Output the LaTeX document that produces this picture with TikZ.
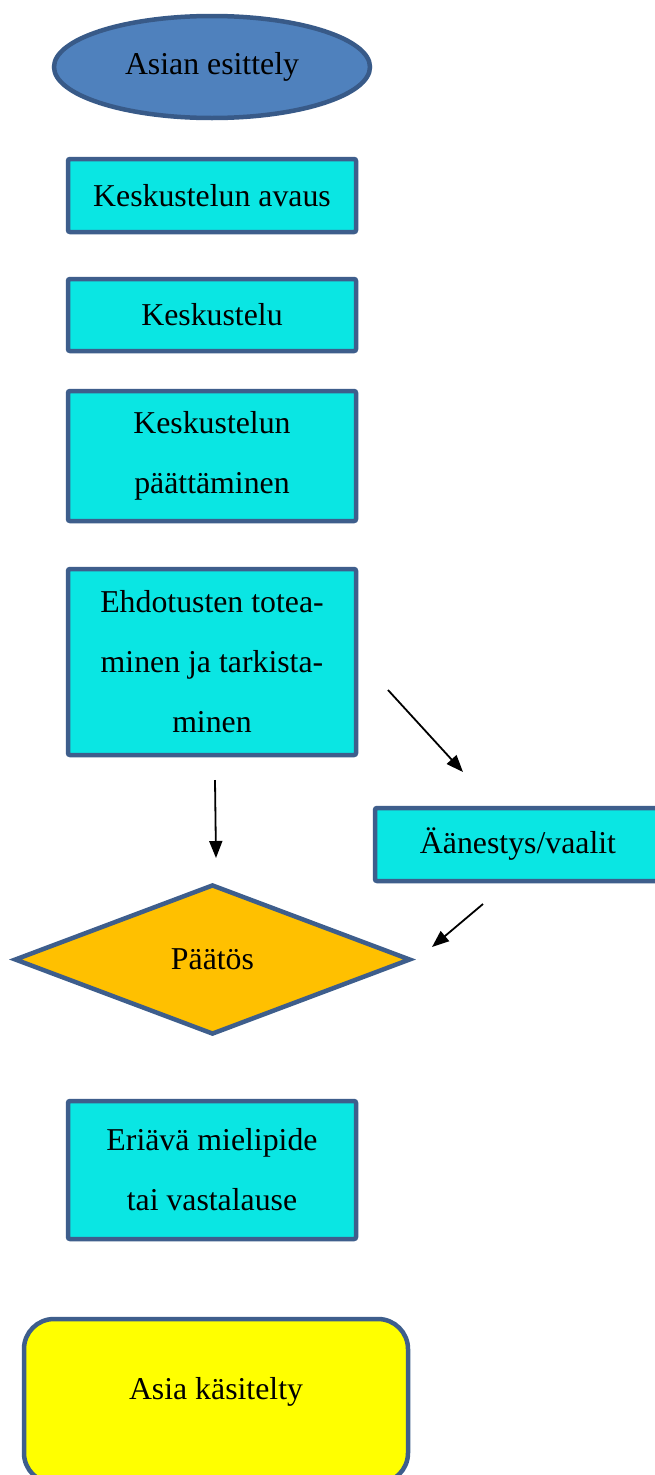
\documentclass[tikz,border=0pt]{standalone}
\usepackage{fontspec}
\setmainfont{Liberation Serif}
\usetikzlibrary{shapes.geometric,arrows.meta}
\definecolor{boxfill}{RGB}{10,230,227}
\definecolor{boxline}{RGB}{62,94,140}
\definecolor{ellfill}{RGB}{79,129,189}
\definecolor{ellline}{RGB}{56,90,136}
\definecolor{decfill}{RGB}{255,192,0}
\definecolor{endfill}{RGB}{255,255,0}
\tikzset{
  txt/.style={font=\fontsize{31.8}{60}\selectfont, align=center, text=black},
  stepbox/.style={txt, draw=boxline, line width=4.5pt, fill=boxfill, rounded corners=2pt,
    minimum width=288pt, inner sep=0pt},
  startnode/.style={txt, ellipse, draw=ellline, line width=4.5pt, fill=ellfill,
    minimum width=316pt, minimum height=102pt, inner sep=0pt},
  decision/.style={txt, diamond, draw=boxline, line width=4.5pt, fill=decfill,
    aspect=2.6, minimum width=396pt, minimum height=150pt, inner sep=0pt},
  endnode/.style={txt, draw=boxline, line width=4.5pt, fill=endfill, rounded corners=30pt,
    minimum width=384pt, minimum height=164pt, inner sep=0pt},
  arr/.style={line width=1.8pt, -{Triangle[length=17pt,width=13pt]}}
}
\begin{document}
\begin{tikzpicture}[x=1pt,y=-1pt]
\clip (0,0) rectangle (655,1475);
\fill[white] (0,0) rectangle (655,1475);
\node[startnode] (start) at (212,67) {Asian esittely};
\node[stepbox, minimum height=73pt] (avaus) at (212,195.5) {Keskustelun avaus};
\node[stepbox, minimum height=72pt] (kesk) at (212,315) {Keskustelu};
\node[stepbox, minimum height=130pt] (paatt) at (212,456) {Keskustelun\\päättäminen};
\node[stepbox, minimum height=186pt] (ehd) at (212,662) {Ehdotusten totea-\\minen ja tarkista-\\minen};
\node[stepbox, minimum height=73pt, minimum width=286pt] (aan) at (518,844.5) {Äänestys/vaalit};
\node[decision] (paatos) at (212.5,959.5) {Päätös};
\node[stepbox, minimum height=138pt] (eriava) at (212,1170) {Eriävä mielipide\\tai vastalause};
\node[endnode] (loppu) at (216,1401) {};
\node[txt] (loppuTxt) at (216,1392) {Asia käsitelty};
\coordinate (a1s) at (215,780);
\coordinate (a1e) at (216,858);
\coordinate (a2s) at (388,690);
\coordinate (a2e) at (463,772);
\coordinate (a3s) at (483,904);
\coordinate (a3e) at (432,947);
\draw[arr] (a1s) -- (a1e);
\draw[arr] (a2s) -- (a2e);
\draw[arr] (a3s) -- (a3e);
\end{tikzpicture}
\end{document}
